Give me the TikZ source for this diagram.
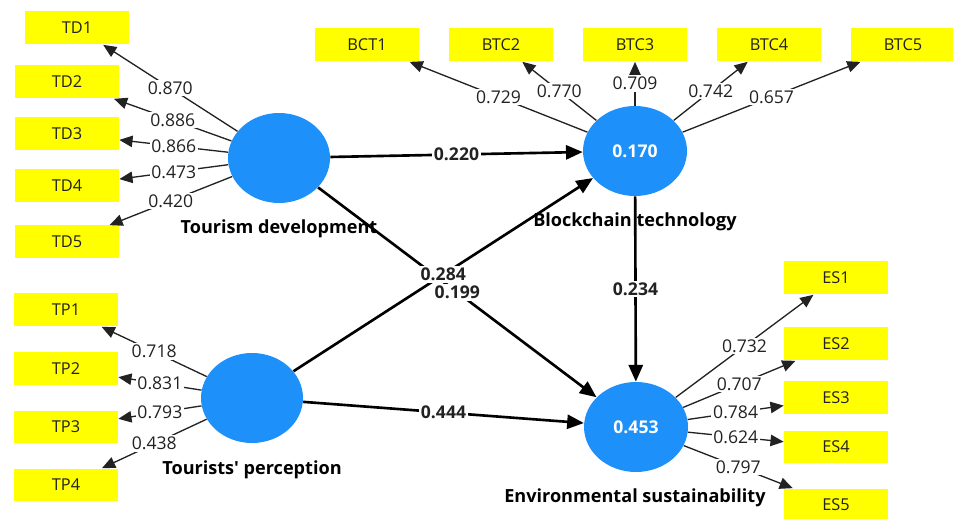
\documentclass[tikz,border=0pt]{standalone}
\usepackage{fontspec}
\setmainfont{Open Sans}
\usetikzlibrary{arrows.meta,shapes.geometric}
\definecolor{lvblue}{RGB}{30,144,250}
\definecolor{indyellow}{RGB}{255,255,0}
\definecolor{txt}{RGB}{34,34,34}
\begin{document}
\begin{tikzpicture}[x=0.02cm,y=-0.02cm,
  ind/.style={rectangle, fill=indyellow, minimum width=2.08cm, minimum height=0.66cm, inner sep=0pt, font=\fontsize{9.3}{11}\selectfont, text=txt},
  lv/.style={ellipse, fill=lvblue, minimum width=2.04cm, minimum height=1.8cm, inner sep=0pt, text=white, font=\bfseries\fontsize{10}{12}\selectfont},
  lvname/.style={font=\bfseries\fontsize{10.3}{12}\selectfont, text=black, inner sep=1pt},
  load/.style={draw=txt, line width=0.75pt, -{Triangle[length=7.5pt,width=6.5pt]}},
  pathc/.style={draw=black, line width=1.5pt, -{Triangle[length=9.5pt,width=8pt]}},
  lval/.style={fill=white, inner sep=1pt, font=\fontsize{10}{12}\selectfont, text=txt},
  pval/.style={fill=white, inner sep=1pt, font=\bfseries\fontsize{10}{12}\selectfont, text=txt}]
\useasboundingbox (0,0) rectangle (953,519);
\clip (0,0) rectangle (953,519);
\fill[white] (0,0) rectangle (953,519);

% latent variables
\node[lv] (TD) at (279,158) {};
\node[lv, minimum width=2.08cm] (BT) at (635,151) {0.170};
\node[lv] (TP) at (252,398) {};
\node[lv, minimum width=2.08cm] (ES) at (636,427) {0.453};

% indicators
\node[ind] (TD1) at (77,28) {TD1};
\node[ind] (TD2) at (67,82) {TD2};
\node[ind] (TD3) at (67,134) {TD3};
\node[ind] (TD4) at (67,186) {TD4};
\node[ind] (TD5) at (67,242) {TD5};
\node[ind] (TP1) at (66,310) {TP1};
\node[ind] (TP2) at (66,369) {TP2};
\node[ind] (TP3) at (66,427) {TP3};
\node[ind] (TP4) at (66,485) {TP4};
\node[ind] (BT1) at (367,45) {BCT1};
\node[ind] (BT2) at (501,45) {BTC2};
\node[ind] (BT3) at (635,45) {BTC3};
\node[ind] (BT4) at (769,45) {BTC4};
\node[ind] (BT5) at (903,45) {BTC5};
\node[ind] (ES1) at (836,278) {ES1};
\node[ind] (ES2) at (836,344) {ES2};
\node[ind] (ES3) at (836,398) {ES3};
\node[ind] (ES4) at (836,447) {ES4};
\node[ind] (ES5) at (836,505) {ES5};

% structural paths
\draw[pathc] (TD) -- node[pval]{0.220} (BT);
\draw[pathc] (TD) -- node[pval]{0.199} (ES);
\draw[pathc] (TP) -- node[pval]{0.284} (BT);
\draw[pathc] (TP) -- node[pval]{0.444} (ES);
\draw[pathc] (BT) -- node[pval]{0.234} (ES);

% loadings
\draw[load] (TD) -- node[lval]{0.870} (TD1);
\draw[load] (TD) -- node[lval]{0.886} (TD2);
\draw[load] (TD) -- node[lval]{0.866} (TD3);
\draw[load] (TD) -- node[lval]{0.473} (TD4);
\draw[load] (TD) -- node[lval]{0.420} (TD5);
\draw[load] (TP) -- node[lval]{0.718} (TP1);
\draw[load] (TP) -- node[lval]{0.831} (TP2);
\draw[load] (TP) -- node[lval]{0.793} (TP3);
\draw[load] (TP) -- node[lval]{0.438} (TP4);
\draw[load] (BT) -- node[lval]{0.729} (BT1);
\draw[load] (BT) -- node[lval]{0.770} (BT2);
\draw[load] (BT) -- node[lval]{0.709} (BT3);
\draw[load] (BT) -- node[lval]{0.742} (BT4);
\draw[load] (BT) -- node[lval]{0.657} (BT5);
\draw[load] (ES) -- node[lval]{0.732} (ES1);
\draw[load] (ES) -- node[lval]{0.707} (ES2);
\draw[load] (ES) -- node[lval]{0.784} (ES3);
\draw[load] (ES) -- node[lval]{0.624} (ES4);
\draw[load] (ES) -- node[lval]{0.797} (ES5);

% names
\node[lvname] (TDn) at (279,229) {Tourism development};
\node[lvname] (BTn) at (635,222) {Blockchain technology};
\node[lvname] (TPn) at (252,470) {Tourists\textquotesingle{} perception};
\node[lvname] (ESn) at (635,498) {Environmental sustainability};
\end{tikzpicture}
\end{document}
